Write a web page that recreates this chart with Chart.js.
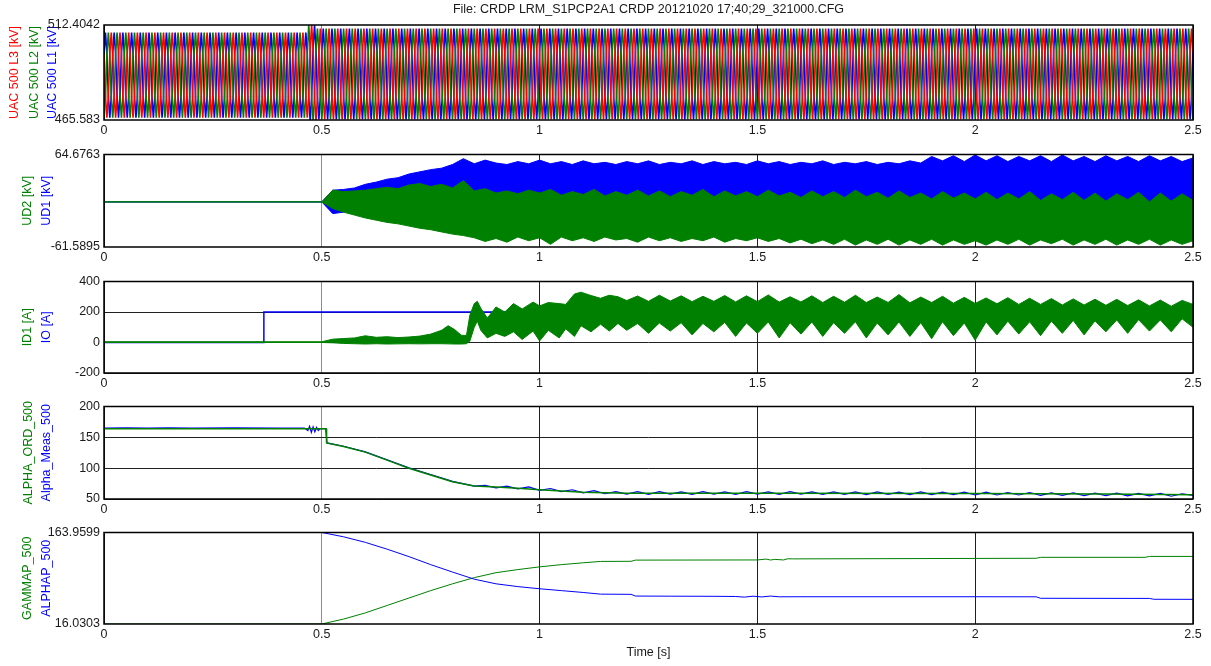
<!DOCTYPE html>
<html>
<head>
<meta charset="utf-8">
<title>CRDP recording</title>
<script src="https://cdn.jsdelivr.net/npm/chart.js@4.4.1/dist/chart.umd.min.js"></script>
<style>
  body { margin: 0; background: #fff; }
  #wrap { position: relative; width: 1211px; height: 666px; overflow: hidden; }
  #wrap canvas { position: absolute; left: 0; }
</style>
</head>
<body>
<div id="wrap">
  <canvas id="uacChart" width="1211" height="142" style="top:0px"></canvas>
  <canvas id="udChart" width="1211" height="126" style="top:143px"></canvas>
  <canvas id="idChart" width="1211" height="125" style="top:270px"></canvas>
  <canvas id="alphaChart" width="1211" height="126" style="top:395px"></canvas>
  <canvas id="gammaChart" width="1211" height="139" style="top:521px"></canvas>
</div>
<script>
const fileTitle = 'File: CRDP LRM_S1PCP2A1 CRDP 20121020 17;40;29_321000.CFG';
const timeRange = [0, 2.5];
const timeTickLabels = ['0', '0.5', '1', '1.5', '2', '2.5'];

// panel 1: three phase AC voltage (50 Hz, 6 samples per period)
const uacRange = [465.583, 512.4042];
const uacTickLabels = ['465.583', '512.4042'];
const uacCycle = [0.5, 1, 0.5, -0.5, -1, -0.5];
const uacSamplesPerSec = 300;
const uacPhaseShift = [0, 4, 2];          // L1, L2, L3
const uacSegStart = [0, 0.47, 0.49];
const uacMid = [487.7, 488.8, 488.2];
const uacAmp = [21.0, 23.6, 22.4];

// panel 2: DC voltages, envelopes on a 0.025 s grid from 0.5 s (first value is t = 0)
const udRange = [-61.5895, 64.6763];
const udTickLabels = ['-61.5895', '64.6763'];
const ud1Hi = [0, 0, 16, 17, 19, 24, 27, 31, 33, 38, 41, 44, 46, 51, 59, 52, 57, 53, 51, 55, 52, 57,
  52, 55, 51, 56, 52, 54, 51, 55, 52, 56, 51, 54, 52, 56, 51, 55, 52, 54, 51, 56,
  52, 55, 51, 54, 52, 56, 51, 54, 52, 55, 51, 54, 52, 56, 53,
  62, 56, 63, 55, 64, 56, 63, 55, 62, 56, 63, 55, 64, 56, 62, 55, 63, 56, 62, 55, 63, 56, 62, 55, 60];
const ud1LoT = [0, 0.5, 0.525, 0.55, 0.575];
const ud1Lo = [0, 0, -16, -14, 0];
const ud2Hi = [0, 0, 16, 14, 15, 16, 18, 20, 18, 23, 25, 21, 24, 19, 29, 15, 18, 12, 15, 11, 16, 12,
  17, 9, 14, 10, 17, 8, 14, 9, 16, 8, 15, 7, 14, 9, 17, 7, 15, 8, 14, 7,
  16, 8, 13, 6, 15, 7, 14, 6, 16, 7, 13, 5, 15, 6, 12,
  4, 14, 5, 12, 4, 13, 3, 12, 4, 14, 2, 11, 3, 13, 2, 12, 1, 11, 3, 13, 0, 12, 1, 11, 2];
const ud2Lo = [0, 0, -9, -14, -18, -22, -25, -28, -30, -33, -36, -38, -41, -44, -46, -49, -54, -50, -55, -48, -53, -49,
  -58, -48, -53, -49, -54, -48, -52, -50, -55, -48, -53, -49, -54, -50, -53, -48, -55, -50, -53, -49,
  -54, -50, -56, -51, -57, -52, -58, -51, -59, -52, -58, -51, -59, -52, -58,
  -51, -59, -52, -58, -53, -59, -52, -58, -51, -59, -52, -57, -51, -59, -52, -58, -51, -59, -52, -58, -51, -59, -52, -58, -53];

// panel 3: currents
const idTicks = [-200, 400, 200];
const ioT = [0, 0.366, 0.367, 2.5];
const ioV = [0, 0, 200, 200];
const id1T = [0, 0.5, 0.525, 0.55, 0.575, 0.6, 0.625, 0.65, 0.675, 0.7, 0.725, 0.75, 0.775, 0.79, 0.805, 0.82, 0.832,
  0.84, 0.85, 0.857, 0.865, 0.88, 0.9, 0.92, 0.94, 0.96, 0.985, 1.0, 1.02, 1.045, 1.06, 1.08, 1.095, 1.118, 1.14, 1.16, 1.18,
  1.2, 1.225, 1.25, 1.275, 1.3, 1.325, 1.35, 1.375, 1.4, 1.425, 1.45, 1.475, 1.5, 1.525, 1.55, 1.575, 1.6, 1.625, 1.65, 1.675,
  1.7, 1.725, 1.75, 1.775, 1.8, 1.825, 1.85, 1.875, 1.9, 1.925, 1.95, 1.975, 2.0, 2.025, 2.05, 2.075, 2.1, 2.125, 2.15, 2.175,
  2.2, 2.225, 2.25, 2.275, 2.3, 2.325, 2.35, 2.375, 2.4, 2.425, 2.45, 2.475, 2.5];
const id1Hi = [5, 5, 22, 26, 30, 44, 34, 38, 32, 36, 42, 55, 80, 110, 85, 48, 45,
  180, 255, 270, 225, 160, 233, 200, 255, 220, 265, 240, 262, 255, 250, 318, 330, 308, 290, 310, 300,
  275, 305, 270, 310, 272, 306, 268, 303, 270, 308, 266, 306, 268, 312, 265, 300, 266, 306, 262, 303,
  264, 310, 262, 298, 263, 314, 260, 298, 262, 303, 258, 296, 256, 292, 254, 294, 250, 290, 250, 288,
  246, 286, 246, 284, 244, 283, 242, 280, 240, 278, 238, 276, 250];
const id1Lo = [0, 0, -2, -6, -8, -10, -8, -10, -9, -8, -9, -8, -8, -9, -10, -10, -8,
  10, 100, 140, 80, 30, 60, 40, 70, 20, 75, 10, 80, 30, 90, 40, 110, 70, 120, 75, 125,
  80, 125, 60, 128, 75, 130, 50, 125, 70, 132, 40, 128, 60, 135, 30, 130, 55, 135, 40, 130,
  60, 136, 30, 128, 50, 135, 40, 130, 25, 136, 45, 128, 15, 135, 50, 140, 55, 136, 45, 140,
  60, 145, 50, 142, 70, 148, 60, 150, 75, 148, 70, 155, 100];

// panel 4: firing angle order and measurement
const alphaTicks = [50, 200, 50];
const alphaOrdT = [0, 0.51, 0.511, 0.55, 0.6, 0.65, 0.7, 0.75, 0.8, 0.85, 0.9, 0.95, 1.0, 1.05, 1.1, 1.15, 1.2, 1.5, 2.0, 2.3, 2.5];
const alphaOrdV = [164, 164, 141, 135, 126, 113, 100, 89, 78, 71, 69.5, 67.5, 65, 63, 61, 60, 59.5, 59.5, 59, 58, 57];
const alphaMeasT = [0, 0.05, 0.1, 0.15, 0.2, 0.3, 0.4, 0.46, 0.468, 0.472, 0.476, 0.48, 0.484, 0.488, 0.492, 0.496,
  0.5, 0.509, 0.512, 0.55, 0.6, 0.65, 0.7, 0.75, 0.8, 0.85, 0.875, 0.9, 0.925, 0.95, 0.975, 1.0, 1.025, 1.05, 1.075,
  1.1, 1.125, 1.15, 1.175,
  1.2, 1.225, 1.25, 1.275, 1.3, 1.325, 1.35, 1.375, 1.4, 1.425, 1.45, 1.475, 1.5, 1.525, 1.55, 1.575, 1.6, 1.625, 1.65, 1.675,
  1.7, 1.725, 1.75, 1.775, 1.8, 1.825, 1.85, 1.875, 1.9, 1.925, 1.95, 1.975, 2.0, 2.025, 2.05, 2.075, 2.1, 2.125, 2.15, 2.175,
  2.2, 2.225, 2.25, 2.275, 2.3, 2.325, 2.35, 2.375, 2.4, 2.425, 2.45, 2.475, 2.5];
const alphaMeasV = [165, 165.5, 165, 165.5, 165, 165.5, 165, 165, 161, 168, 158, 167, 159, 166, 161, 164,
  164, 164, 141, 135.5, 126.5, 113.5, 100.5, 89.5, 78.5, 71, 72, 68, 71, 66.5, 69.5, 64, 67, 62, 65,
  60, 63.5, 58.5, 62,
  58, 62, 57.5, 62, 58, 61.5, 57.5, 62, 58, 61.5, 57.5, 62, 58, 61.5, 57.5, 62, 58, 61.5, 57.5, 61.5,
  57.5, 61.5, 57, 61.5, 57.5, 61, 57, 61.5, 57, 61, 57, 61, 56.5, 61, 56.5, 60.5, 56.5, 60.5, 56, 60,
  56, 60, 55.5, 59.5, 55.5, 59.5, 55, 59, 55, 59, 54.5, 58.5, 56];

// panel 5: alpha / gamma references
const gammaRange = [16.0303, 163.9599];
const gammaTickLabels = ['16.0303', '163.9599'];
const alphapT = [0, 0.5, 0.55, 0.6, 0.65, 0.7, 0.75, 0.8, 0.85, 0.9, 0.95, 1.0, 1.05, 1.1, 1.14, 1.21, 1.22, 1.3, 1.4,
  1.45, 1.47, 1.49, 1.51, 1.53, 1.55, 1.6, 2.0, 2.14, 2.15, 2.4, 2.41, 2.5];
const alphapV = [163.96, 163.96, 157, 148, 137, 125, 112, 100, 88.5, 81, 76.5, 73, 70, 67, 64.3, 64, 61.2, 61, 60.8,
  60.5, 59.5, 61, 59.8, 61.2, 60, 60.1, 60.1, 60, 57.6, 57.4, 56, 55.9];
const gammapT = [0, 0.5, 0.55, 0.6, 0.65, 0.7, 0.75, 0.8, 0.85, 0.9, 0.95, 1.0, 1.05, 1.1, 1.14, 1.21, 1.22, 1.5,
  1.52, 1.53, 1.54, 1.56, 1.57, 1.58, 2.14, 2.15, 2.39, 2.4, 2.5];
const gammapV = [16.03, 16.03, 24, 34, 46, 58, 70, 81, 91, 99, 104, 108.4, 112, 115, 117.2, 117.4, 119.3, 119.6,
  121, 119.5, 120.5, 119.6, 121.5, 121.3, 122.3, 123.8, 123.8, 125.3, 125.3];

const RED = '#ff0000', GREEN = '#008000', BLUE = '#0000ff', INK = '#1a1a1a';

Chart.defaults.font.family = 'Arial, "Liberation Sans", Helvetica, sans-serif';
Chart.defaults.font.size = 12.5;
Chart.defaults.color = INK;

const pts = (t, v) => t.map((x, i) => ({ x: x, y: v[i] }));
const noiseTimes = arr => arr.map((_, i) => i === 0 ? 0 : 0.5 + (i - 1) * 0.025);

function buildUac(shift) {
  const out = [];
  const n = Math.round(timeRange[1] * uacSamplesPerSec);
  for (let k = 0; k <= n; k++) {
    const t = k / uacSamplesPerSec;
    let seg = 0;
    uacSegStart.forEach((s, i) => { if (t >= s) seg = i; });
    out.push({ x: t, y: uacMid[seg] + uacAmp[seg] * uacCycle[(k + shift) % uacCycle.length] });
  }
  return out;
}

// black box round every plot area
const framePlugin = {
  id: 'frame',
  afterDatasetsDraw(chart) {
    const { ctx, chartArea: a } = chart;
    ctx.save();
    ctx.strokeStyle = '#000';
    ctx.lineWidth = 1.5;
    ctx.strokeRect(a.left, a.top, a.right - a.left, a.bottom - a.top);
    ctx.restore();
  }
};

function xAxis(height, withTitle) {
  return {
    type: 'linear', min: timeRange[0], max: timeRange[1],
    ticks: { stepSize: 0.5, padding: 3, maxRotation: 0, color: INK, callback: (v, i) => timeTickLabels[i] },
    grid: { drawTicks: false, lineWidth: 1, color: c => (c.tick && c.tick.value === 0.5) ? '#8c8c8c' : '#202020' },
    border: { display: false },
    title: { display: withTitle, text: 'Time [s]', color: INK, padding: 0 },
    afterFit: s => { s.height = height; }
  };
}

function valueAxis(p) {
  const ax = {
    type: 'linear', position: 'left', weight: 0, min: p.min, max: p.max,
    ticks: { padding: 4, color: INK },
    grid: { display: p.grid, drawTicks: false, color: '#202020', lineWidth: 1 },
    border: { display: false },
    title: { display: true, text: p.title, color: p.color, padding: 0 },
    afterFit: s => { s.width = p.width; }
  };
  if (p.labels) {
    ax.afterBuildTicks = s => { s.ticks = [{ value: p.min }, { value: p.max }]; };
    ax.ticks.callback = (v, i) => p.labels[i];
  } else {
    ax.ticks.stepSize = p.step;
  }
  return ax;
}

function titleAxis(text, color, weight, width, pad) {
  return {
    type: 'linear', position: 'left', weight: weight,
    ticks: { display: false },
    grid: { display: false },
    border: { display: false },
    title: { display: true, text: text, color: color, padding: { top: pad, bottom: 0 } },
    afterFit: s => { s.width = width; }
  };
}

function makePanel(id, datasets, scales, padTop, title) {
  return new Chart(document.getElementById(id), {
    type: 'line',
    data: { datasets: datasets },
    options: {
      responsive: false,
      animation: false,
      events: [],
      layout: { padding: { top: padTop, right: 18, left: 0, bottom: 0 } },
      elements: { point: { radius: 0 }, line: { borderWidth: 1, tension: 0 } },
      plugins: {
        legend: { display: false },
        tooltip: { enabled: false },
        title: title || { display: false }
      },
      scales: scales
    },
    plugins: [framePlugin]
  });
}

const line = (data, color, extra) => Object.assign({ data: data, borderColor: color, backgroundColor: color, fill: false }, extra || {});

// panel 1
makePanel('uacChart', [
  line(buildUac(uacPhaseShift[2]), RED, { borderWidth: 1.6 }),
  line(buildUac(uacPhaseShift[1]), GREEN, { borderWidth: 1.6 }),
  line(buildUac(uacPhaseShift[0]), BLUE, { borderWidth: 1.6 })
], {
  x: xAxis(22, false),
  y: valueAxis({ min: uacRange[0], max: uacRange[1], labels: uacTickLabels, grid: false, title: 'UAC 500 L1 [kV]', color: BLUE, width: 59 }),
  yL2: titleAxis('UAC 500 L2 [kV]', GREEN, 1, 18, 0),
  yL3: titleAxis('UAC 500 L3 [kV]', RED, 2, 27, 7)
}, 0, {
  display: true, text: fileTitle, color: INK, fullSize: false,
  font: { size: 12.5, weight: 'normal' }, padding: { top: 2, bottom: 8 }
});

// panel 2
const udT = noiseTimes(ud2Hi);
makePanel('udChart', [
  line(pts(udT, ud2Hi), GREEN, { fill: '+1' }),
  line(pts(udT, ud2Lo), GREEN),
  line(pts(noiseTimes(ud1Hi), ud1Hi), BLUE, { fill: 'origin' }),
  line(pts(ud1LoT, ud1Lo), BLUE, { fill: 'origin' })
], {
  x: xAxis(22, false),
  y: valueAxis({ min: udRange[0], max: udRange[1], labels: udTickLabels, grid: false, title: 'UD1 [kV]', color: BLUE, width: 65 }),
  yUd2: titleAxis('UD2 [kV]', GREEN, 1, 39, 20.5)
}, 8);

// panel 3
makePanel('idChart', [
  line(pts(id1T, id1Hi), GREEN, { fill: '+1' }),
  line(pts(id1T, id1Lo), GREEN),
  line(pts(ioT, ioV), BLUE, { borderWidth: 1.5 })
], {
  x: xAxis(22, false),
  y: valueAxis({ min: idTicks[0], max: idTicks[1], step: idTicks[2], grid: true, title: 'IO [A]', color: BLUE, width: 65 }),
  yId1: titleAxis('ID1 [A]', GREEN, 1, 39, 20.5)
}, 8);

// panel 4
makePanel('alphaChart', [
  line(pts(alphaOrdT, alphaOrdV), GREEN, { borderWidth: 1.5 }),
  line(pts(alphaMeasT, alphaMeasV), BLUE, { borderWidth: 1.2 })
], {
  x: xAxis(22, false),
  y: valueAxis({ min: alphaTicks[0], max: alphaTicks[1], step: alphaTicks[2], grid: true, title: 'Alpha_Meas_500', color: BLUE, width: 65 }),
  yOrd: titleAxis('ALPHA_ORD_500', GREEN, 1, 39, 21)
}, 8);

// panel 5
makePanel('gammaChart', [
  line(pts(alphapT, alphapV), BLUE),
  line(pts(gammapT, gammapV), GREEN)
], {
  x: xAxis(36, true),
  y: valueAxis({ min: gammaRange[0], max: gammaRange[1], labels: gammaTickLabels, grid: false, title: 'ALPHAP_500', color: BLUE, width: 65 }),
  yGamma: titleAxis('GAMMAP_500', GREEN, 1, 39, 20.5)
}, 8);
</script>
</body>
</html>
